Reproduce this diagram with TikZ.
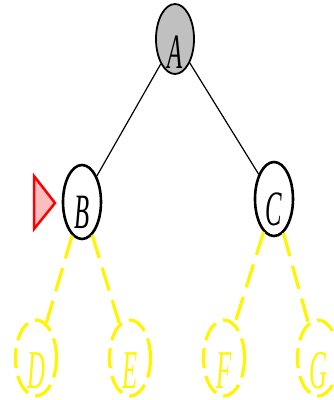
\documentclass[tikz,border=0pt]{standalone}
\usepackage{fontspec}
\setmainfont{Liberation Serif}
\usetikzlibrary{shapes.geometric}
\definecolor{leafyellow}{RGB}{255,245,0}
\definecolor{markpink}{RGB}{250,190,190}
\definecolor{rootgray}{RGB}{192,192,192}
% tall italic letter, lowered by #1 and taking no room, so the ellipse size is unaffected
\newcommand{\tallit}[3]{\raisebox{-#1}[0pt][0pt]{\scalebox{0.95}[#2]{\itshape #3}}}
\tikzset{
  treenode/.style={ellipse, draw=black, line width=2.6pt, minimum width=38pt, minimum height=74pt, inner sep=0pt, font=\fontsize{26}{26}\selectfont},
  rootnode/.style={treenode, line width=1.8pt, fill=rootgray, minimum height=70pt},
  leafnode/.style={ellipse, draw=leafyellow, line width=3.2pt, dash pattern=on 20pt off 8pt, minimum width=41pt, minimum height=76pt, inner sep=0pt, text=leafyellow, font=\fontsize{26}{26}\selectfont},
  treeedge/.style={draw=black, line width=1.2pt},
  leafedge/.style={draw=leafyellow, line width=3.2pt, dash pattern=on 24pt off 10pt}
}
\begin{document}
\begin{tikzpicture}[x=1pt,y=-1pt]
  \useasboundingbox (0,0) rectangle (334,400);
  % internal nodes
  \node[rootnode] (A) at (175,39) {\tallit{29pt}{1.9}{A}};
  \node[treenode] (B) at (82,202) {\tallit{26pt}{1.9}{B}};
  \node[treenode] (C) at (274,199) {\tallit{26pt}{1.9}{C}};
  % unexplored leaves
  \node[leafnode] (D) at (36,358) {\tallit{30pt}{2.1}{D}};
  \node[leafnode] (E) at (130,358) {\tallit{30pt}{2.1}{E}};
  \node[leafnode] (F) at (224,358) {\tallit{30pt}{2.1}{F}};
  \node[leafnode] (G) at (318,358) {\tallit{30pt}{2.1}{G}};
  % edges
  \draw[treeedge] (A) -- (B);
  \draw[treeedge] (A) -- (C);
  \draw[leafedge] (B) -- (D);
  \draw[leafedge] (B) -- (E);
  \draw[leafedge] (C) -- (F);
  \draw[leafedge] (C) -- (G);
  % current-position marker
  \draw[red, line width=2.5pt, fill=markpink, line join=miter]
    (34,176) -- (55,203) -- (34,229) -- cycle;
\end{tikzpicture}
\end{document}
